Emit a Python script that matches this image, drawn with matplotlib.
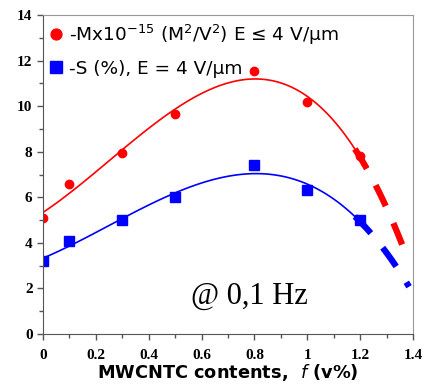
import matplotlib.pyplot as plt
import numpy as np
from matplotlib.ticker import MultipleLocator

# MWCNT content (v%)
f_pts = [0, 0.1, 0.3, 0.5, 0.8, 1.0, 1.2]
M_pts = [5.1, 6.6, 7.95, 9.65, 11.55, 10.2, 7.8]   # -M x 1e-15
S_pts = [3.2, 4.1, 5.0, 6.0, 7.4, 6.3, 5.0]        # -S (%)

x_ticks = [0, 0.2, 0.4, 0.6, 0.8, 1, 1.2, 1.4]
y_ticks = [0, 2, 4, 6, 8, 10, 12, 14]

red = '#ff0000'
blue = '#0000ff'

fig = plt.figure(figsize=(4.24, 3.9), dpi=100)
ax = fig.add_axes([0.1014, 0.1436, 0.8726, 0.8179])

# fitted trend lines (cubic fit of the measured points)
cM = np.polyfit(f_pts, M_pts, 3)
cS = np.polyfit(f_pts, S_pts, 3)
xs = np.linspace(0, 1.18, 100)
xd_M = np.linspace(1.18, 1.375, 30)
xd_S = np.linspace(1.18, 1.385, 30)

ax.plot(xs, np.polyval(cM, xs), color=red, lw=1.2)
ax.plot(xs, np.polyval(cS, xs), color=blue, lw=1.2)
ax.plot(xd_M, np.polyval(cM, xd_M), color=red, lw=4.5, dashes=(3.7, 3.0))
ax.plot(xd_S, np.polyval(cS, xd_S), color=blue, lw=4.5, dashes=(3.7, 3.0))

ax.plot(f_pts, M_pts, 'o', color=red, ms=6, mec=red,
        label='-Mx10$^{-15}$ (M$^2$/V$^2$) E ≤ 4 V/μm')
ax.plot(f_pts, S_pts, 's', color=blue, ms=6.5, mec=blue,
        label='-S (%), E = 4 V/μm')

ax.legend(loc='upper left', frameon=False, fontsize=13.3, markerscale=1.3,
          handlelength=0.6, handletextpad=0.4, labelspacing=0.72,
          borderaxespad=0.1, borderpad=0.3)

ax.text(0.78, 1.65, '@ 0,1 Hz', fontsize=22, family='Liberation Serif',
        ha='center', va='center')

ax.set_xlim(0, 1.4)
ax.set_ylim(0, 14)
ax.set_xticks(x_ticks)
ax.set_xticklabels(['0', '0.2', '0.4', '0.6', '0.8', '1', '1.2', '1.4'])
ax.set_yticks(y_ticks)
ax.xaxis.set_minor_locator(MultipleLocator(0.1))
ax.yaxis.set_minor_locator(MultipleLocator(1))
for lab in ax.get_xticklabels() + ax.get_yticklabels():
    lab.set_family('Liberation Serif')
    lab.set_fontweight('bold')
    lab.set_fontsize(11)
ax.tick_params(which='both', direction='out', color='#555555', width=1)
ax.tick_params(which='major', length=4)
ax.tick_params(which='minor', length=3)
ax.tick_params(axis='x', pad=7)
for s in ['top', 'right']:
    ax.spines[s].set_color('#999999')
for s in ['left', 'bottom']:
    ax.spines[s].set_color('#555555')

ax.set_xlabel(r'MWCNTC contents,  $\mathit{f}$ (v%)', fontsize=12.8,
              fontweight='bold', labelpad=0)

fig.savefig('out.png', dpi=100)
